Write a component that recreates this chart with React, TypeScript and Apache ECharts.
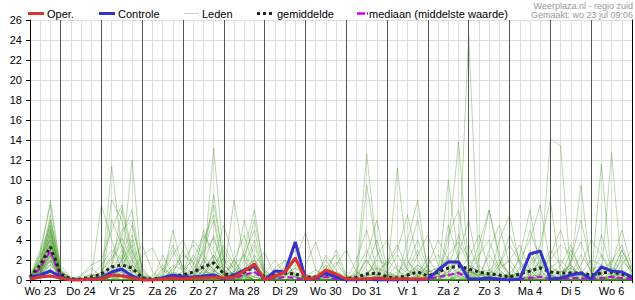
import React, { useEffect, useRef } from "react";
import * as echarts from "echarts";

// Day labels (shown at noon of each day); time axis in hours from Wo 23 00:00
const dayLabels = ["Wo 23", "Do 24", "Vr 25", "Za 26", "Zo 27", "Ma 28", "Di 29", "Wo 30", "Do 31", "Vr 1", "Za 2", "Zo 3", "Ma 4", "Di 5", "Wo 6"];
const firstHour = 6;
const stepHours = 6;

// 6-hourly precipitation (mm), starting at Wo 23 06:00
const oper = [0.1,0.3,0.4,0.2, 0,0,0.1,0.1, 0.5,0.4,0.2,0, 0,0.1,0.2,0.1, 0.2,0.2,0.3,0.2, 0.3,0.9,1.6,0, 0.4,0.8,2.2,0.1, 0.2,1.0,0.6,0.1, 0.1,0.1,0.2,0.1, 0.1,0.1,0.1,0.1];
const controle = [0.2,0.5,0.9,0.3, 0,0,0.1,0.2, 0.8,1.1,0.4,0, 0,0.2,0.5,0.3, 0.3,0.4,0.5,0.1, 0.5,1.0,1.4,0, 0.9,0.8,3.8,0.1, 0.2,0.7,0.3,0, 0,0.1,0,0, 0,0.1,0,0.1, 1.0,1.8,1.8,0.1, 0.1,0.2,0.1,0, 0.1,2.6,2.9,0.1, 0.2,0.5,0.7,0.1, 1.3,0.9,0.8,0.3];
const gemiddelde = [0.3,1.5,3.3,0.6, 0.1,0.1,0.3,0.6, 1.3,1.5,1.2,0.2, 0.1,0.2,0.4,0.5, 0.8,1.3,1.7,0.6, 0.5,0.8,1.3,0.2, 0.5,0.7,0.6,0.3, 0.3,0.6,0.4,0.1, 0.3,0.6,0.7,0.3, 0.2,0.5,0.8,0.4, 0.8,1.2,1.4,1.1, 0.8,0.6,0.5,0.3, 0.6,0.9,1.2,0.8, 0.7,0.7,0.7,0.5, 0.7,0.8,0.6,0.3];
const mediaan = [0.1,1.2,2.9,0.2, 0,0,0,0.1, 0.4,0.5,0.3,0, 0,0.1,0.2,0.1, 0.2,0.4,0.5,0.1, 0.2,0.5,0.8,0, 0.2,0.3,0.2,0, 0.1,0.3,0.1,0, 0,0.1,0.1,0, 0,0.1,0.1,0.1, 0.3,0.5,0.7,0.2, 0.1,0.1,0.1,0, 0.1,0.2,0.3,0.1, 0.1,0.2,0.2,0.1, 0.2,0.3,0.2,0.1];

// Ensemble members (leden)
const leden = [
  [0.2,2.5,8,1.2, 0,0,0.3,1.5, 3,2,0.8,0, 0,0.4,1.5,1, 2,4.5,3,0.8, 1.5,2.5,1,0, 0.4,1,0.3,0, 0,0.8,0.3,0, 0,0.6,1.5,0.4, 0.8,1.8,0.9,0, 0.4,2.5,3.8,1.5, 0.8,0.4,0,0, 0,0.8,1.8,0.4, 0.3,0.9,0.4,0, 0,0.9,0.4,0],
  [0.5,3,7.5,0.8, 0,0,0,0.4, 1.2,7,2.5,0, 0,0,0.6,3, 1,0.5,2,0.4, 0,1,3.5,0.2, 0,0.3,1.5,0.5, 0.2,0,0,0, 1,3,0.8,0, 0,0.3,2.5,4.5, 1.5,0.4,0,0, 0,0,1.2,2, 3.5,1,0,0, 0,0,0.6,2, 1.5,0.3,0,0],
  [0,1.5,6.5,0.6, 0,0,0.6,0, 0.5,1,4,0.3, 0,1.2,0.4,0, 0,2,8.5,1.5, 0.5,0,0.8,0, 1.2,2,0.4,0, 0,1.2,2.5,0.3, 0,0,0,0.4, 1.5,0.6,0,0, 0,0,1,2.2, 4.5,1,0.3,0, 0,0,0.8,3, 1.5,0.4,0,0.2, 0.6,1.8,3.5,0.8],
  [0.1,0.8,6,1.5, 0.2,0,0,0, 11.4,3,0.5,0, 0,0,0,0.3, 0.8,1.2,0.3,0, 2,4.5,1,0, 0,0,0.8,0.2, 0,0,0,0, 0.4,2,0.4,0, 0,0,0.5,1, 0.5,10,2,0.3, 1.5,0.4,0,0, 0,0.4,1.5,0.6, 0,0.3,0,0, 0,0,0.8,0.4],
  [0.3,2,5.5,0.4, 0,0,0,0, 0.4,1.5,12,0.5, 0,0,0.3,0, 0,0.4,1.5,3, 1,0.5,0,0, 0.5,0,0,0, 0.3,1.5,0.6,0, 0,0,1.2,0.8, 0.4,0,0,0.6, 0.3,0.8,2,24.5, 0.8,1,0.4,0, 0,0,0.3,1.2, 2,0.8,0,0, 0,0,0.5,1.5],
  [0,1.2,5,0.2, 0,0,0,0.8, 2.5,5,6,1, 0,0,0,0, 0,1,13.2,2, 0,0.8,0.3,0, 0,0,0,0.4, 1,0.4,0,0, 0,0.3,0,0, 0,0.4,1.5,0.6, 0,0,0.6,1, 0.4,2.5,1,0.2, 0,0,0,0, 0.4,1.2,0.5,0, 11.6,0.3,0,0],
  [0.2,1,4.5,0.3, 0,0,0.3,7.5, 4,0.8,0.2,0, 0,0.2,1,2, 3.5,2,1,0, 0,0.4,2.5,1, 0,0,0,0, 0,0,0.3,0.2, 0.6,12.6,3,0.5, 0,0,0.3,0.8, 1.2,1.5,0.6,0, 0,0,0.3,0.6, 2,4,7.5,1.5, 0.5,0,0,0, 0,0.4,1,0.3],
  [0.1,0.6,4.5,0.9, 0,0,0,0, 0.3,2,3.5,0, 0,0,0,0, 0.4,0.8,0.6,0, 0.8,6,2,0, 0,0.6,2,4.8, 1,0,0,0, 0,0,0.4,0.2, 11.2,2,0.4,0, 0,0.3,0.8,1.2, 0.3,0,0,0.4, 0.6,1.2,0.4,0, 0,0.5,2.5,1, 0.3,0,0,0],
  [0.4,2.5,4,0.2, 0,0,0.5,0.3, 1,0.5,0,0, 0,0.6,2.5,4, 1.5,0.3,0,0, 0.3,1.5,4,0.5, 0.3,0,0,0, 0,0.5,1.8,0.3, 0,0,0,0, 0,0.5,0.8,0.3, 0.5,2,1.5,0.4, 0,0,0.5,0.3, 0.4,0,0,0.4, 0.8,1.5,9.5,0.5, 0,0.3,0.6,0.2],
  [0,0.5,4,0.5, 0,0,0,0, 6,3.5,1,0, 0,0,0,0, 0,5,2,0.5, 0,0,0.4,0.6, 2,0.5,0,0, 0,0,0,0, 2,5,1,0.3, 0.3,1,3,0.5, 0,0,0.4,0.8, 2,7,2.5,0.3, 0,0,0.6,0.3, 0,0,0.3,0.5, 2.5,1,0,0],
  [0.2,1.8,3.5,0.3, 0,0,0,0, 0.5,1,0.3,0, 0,0,0,0.5, 2.5,1,0.4,0, 0,0.3,0.8,0.4, 0,0,0.3,1.5, 3.8,0.5,0,0, 0,0,0.6,2, 1,0.3,0,0, 0,0.6,2.5,3.5, 1,0.3,0,0, 0,0.4,0.5,14.1, 13.4,0.5,0,0, 0.4,0,0.3,0.8],
  [0.1,1.5,3.5,0.8, 0.3,0,0,0.2, 2,4.5,7,0.8, 0,0,0.3,0.6, 4,2.5,1,0.3, 0,0,0,0, 0.8,1.2,0.5,0, 0,0,0,0, 0,0.4,0.8,0.2, 0,0,0.3,1.5, 2.5,1,0.3,0, 0,0.6,1.8,0.6, 0.3,1.8,3,0.6, 0,0,0,0.3, 0.5,12.7,0.8,0.2],
  [0.3,2,3,0.2, 0,0,0,0.6, 1.5,0.8,0.3,0, 0,0.5,0,0, 0,0,0.8,3.5, 1.5,0.6,0,0, 0,0,0,0, 0,0,0.8,0.4, 0,1.5,4,0.6, 0,0,0.4,0.2, 0.8,0.4,1.2,0.6, 0,0,0,0, 0,0.3,2,1, 0.4,0.3,0.8,0.4, 0,0,0,0.3],
  [0,0.8,3,0.4, 0,0.4,1.2,0.3, 0,0,0,0, 0,0,0,0, 0.3,1.5,4.5,0.8, 0,0,0,0.3, 0.5,0,0,0, 0,0.3,0,0, 0,0,0,0, 0.5,2.5,6,1.2, 0,0,0,0.5, 0.5,0.3,0,0, 1,2.5,0.5,0, 0,0.2,0.6,0.3, 0.8,2,1,0],
  [0.1,0.6,2.5,0.1, 0,0,0,0, 0.8,2.5,0.5,0, 0,0,0,0, 0,0,0,0.6, 8,2,0.5,0, 0,0.5,1.2,0.3, 0,0,0,0, 0.3,0,0,0, 0,0,0,0.4, 0.6,3.5,13.8,1, 0,0,0,0.3, 0,0,0,0, 0,0,0.5,1, 1.5,0.5,0,0],
  [0.2,1,2.5,0.5, 0,0,0,0, 0.3,0,0,0, 0,0.8,3,0.8, 0,0.4,1,0.3, 0.6,0.3,0,0, 0,0,0.6,0.3, 0,0.6,0,0, 0.8,0.3,0,0, 0,0,0.6,2.2, 0.6,0,0,0, 0,0,4,6.5, 1.5,0.3,0,0, 0,0,0,0, 0,0.6,2,0.8],
  [0,0.4,2,0, 0,0,0,0, 0,0.5,1.5,0.3, 0,0,0,0, 1,3,6,0.5, 0,0.8,0,0, 0,0,0,0, 0.5,0,0,0, 0,0,0,0.6, 0.3,0,0,0, 0,0,0.3,0.8, 0.6,0,0,0, 0,0.5,3.5,8, 0.5,0,0,0, 0,0,0,0],
  [0.2,0.9,2,0.3, 0,0,0,0, 0.6,0.3,0,0, 0,0,0.4,1.5, 0.5,0,0,0, 0,0,1.5,0.5, 0.6,2,0.5,0, 0,0,0,0, 0,0.6,0.3,0, 0,0.3,1,0.3, 0,0.6,2,0.5, 0,0,0,0, 0,0,0,0.3, 0.6,1.5,0.5,0, 0,0,0.3,0.5],
  [0,0.3,1.5,0.6, 0,0,0,0, 0,0,0,0, 0,0,0,0, 0,0.6,2.5,0.6, 0,0,0,0, 0,0,0,0, 0,0,0,0, 0,0,0,0.3, 0.5,1.5,4,1, 0,0,0,0.3, 0.3,0,0,0, 0,0,0.5,2.5, 5,1.5,0,0, 0,0,0,0],
  [0.1,0.5,1.5,0.2, 0,0,0,0, 0,0,0,0.2, 0.4,1.5,0.3,0, 0,0,0.5,0.8, 0.4,0,0,0, 0,0,0,0, 0,0,0,0, 0,0,0,0, 0,0,0,0, 0,0,0,0, 0,3,5.5,1.5, 0,0,0,0, 0,0,0,0, 0,0.5,3,0.8],
  [0.3,1.5,1,0, 0,0,0,0, 0,1.5,3,0, 0,0,0,0, 0.4,2,1,0, 0,0,0,0, 0,0,0,0.3, 0.4,2,0.5,0, 0,0,0,0, 0,4,8,0.5, 0,0,0,0, 0,0,1,2, 0.6,0,0,0, 0,3,1,0, 0,0,0,0],
  [0,0.3,1,0.2, 0,0,0,0.3, 0.5,0,0,0, 0,0,0,0, 0,0,0,0, 0,3,7,0.5, 0,0,0,0, 0,0,0,0, 0,9.5,3,0, 0,0,0,0, 0,0,0,0.8, 3.5,7,2,0, 0,0,0,0, 0,0,0,0, 0,0,0,0.5],
  [0.2,0.8,0.5,0, 0,0,0,0, 0,0,0.6,0, 0,2.5,0.5,0, 0,0,0,0, 0.3,0,0,0, 0,1.5,3,0.5, 0,0,0,0, 0,0,0,0, 0,0,0,0, 0,0,0,1.5, 0.8,0,0,0, 0,3,1,0, 0,0,0,0, 0,0.5,0.5,0],
  [0,0.2,0.8,0.2, 0,0,0,0, 8,6,2,0, 0,0,0,0, 0,0,0,0, 0,0,0,0, 0,0,0,0, 0,0,0,0, 0,0,0,0, 0,0,0,0, 0,5.5,2,0, 0,0,0,0, 0,0,0,0, 0,0,0,0, 0,0,0,0],
  [0,0.2,0.5,0, 0,0,0,0, 0,0,0,0, 0,0,5,1, 0,0,0,0, 0,0,0,0, 0,0,0,0, 0,0,0,0, 0,0,0,0, 0,0,0,0, 0,0,0,0, 0,0,0,0, 2.5,7,1,0, 0,0,0,0, 0,0,0,0],
  [0.1,1,3,0.4, 0,0.5,1.5,2, 5,7.5,3,0.4, 0,0,0,0, 0,0,0,0.5, 2,0.5,0,0, 0,0,0,0, 0,0,0,0, 0,0,0,0, 0,0,0,0, 0,0,0,0, 0,0,0,0, 0,0,0,0, 0,0,0,0, 0,0,2.5,0.5],
  [0.3,2.2,6,0.8, 0,0,0,0, 0,0,0,0, 0,0,0,0, 0,0,0,0, 0,0,0,0, 0,0,0,0, 0,0,0,0, 0,2.5,6,1, 0,0,0,0, 0,0,0,0, 0,0,0,0, 0,0,0,0, 0,0,0,0, 0,0,0,0],
  [0.2,1.2,5,0.5, 0,0,0,0, 0,0.8,1.5,0.3, 0,0,0,0, 1.5,4,6.5,1, 0,0,0,0, 0,0,0,0, 0,0,0,0, 0,0,0,0, 0,0,0,0, 0,0,0,0, 0,0,0,0, 0,0,0,0, 0,0,0,0, 0,0,0,0],
  [0,0.5,2,0.1, 0,0,0,0, 0,0,0,0, 0,0,0,0, 0,0,0,0, 0,0,0,0, 0,0,0,0, 0,0,0,0, 0,0.5,2,1.5, 3,6.5,2,0, 0,0,0,0, 0,0,0,0, 0,0,0,0, 0,0,0,0, 4.5,1,0,0],
  [0.1,0.6,2.2,0.4, 0,0,0,0, 0,0,0,0, 0,0,0,0, 0,0,0,0, 0,0,0,0, 0,0,0,0, 0,0,0,0, 0,0,0,0, 0,0,0,0, 0,0,0,0, 0,1,2,0.6, 0,0,0,0, 0,2,6,1.5, 0,0,0,0],
  [0.2,1.6,3.8,0.3, 0,0,0,0, 0.8,3,1,0, 0,0,0,0, 0,1,2.5,0.6, 0.8,2.5,5,0.5, 0,0,0,0, 0,0,0,0, 0,0,0,0, 0,0,0,0, 0,1,2.5,6, 0.8,0,0,0, 0,0,0,0, 0,0,0,0, 0,0,0,0],
  [0,0.7,2.8,0.2, 0,0,0,0, 0,0,0,0, 0,0,0,0, 0,0,0,0, 0,0,0,0, 0,0,0,0, 0,0.5,3,0.5, 0,0,0,0, 0,0,0,0, 0,0,0,0, 0,0,0,0, 0,0,0,0, 0,0,0,0, 0,0,0,0],
  [0.2,1.4,4.2,0.7, 0,0,0.2,0.8, 2.2,3.5,1.5,0.2, 0,0.3,0.8,0.5, 0.6,2.8,4.2,1, 0.4,1.2,2,0.3, 0.2,0.6,0.3,0, 0,0.3,0.6,0.2, 0.3,0.8,1.2,0.4, 0.2,0.6,1.5,0.8, 1.2,2.2,1.6,0.8, 0.5,0.8,0.4,0.2, 0.3,1.5,2.5,1.2, 0.8,1.2,0.6,0.3, 0.6,1.2,0.8,0.2],
  [0.1,2.8,5.5,1, 0,0,0,0.5, 0.6,1.8,4.5,0.6, 0,0,1.2,2.5, 1.8,0.6,0.2,0, 0,0.5,1.5,2.8, 0.3,0,0,0, 0,0,1.5,3, 0.8,0,0,0.8, 2.5,1,0,0, 0,1.2,4.5,2, 0.6,0.2,1.5,3.5, 1.8,0.4,0,0, 0,1.8,3.8,0.6, 0.2,0,0,0.6],
  [0,0.9,3.2,0.5, 0,0.2,0.6,0.3, 0,0.4,2,3.5, 0.8,0,0,0, 0,0.5,2,5.5, 2,0.4,0,0, 0,0.8,0.3,0, 0,0,0,0, 0,0,2.5,4, 1,0,0,0, 0,0,0.8,1.6, 2.5,4,1,0, 0,0,0,0.6, 1.5,3.5,0.8,0, 0,0.8,3,1],
  [0.3,1.8,4.8,0.4, 0,0,0,0, 0,2.2,5.5,1.2, 0,0,0.5,0.8, 0.2,1.5,0.8,0, 0.5,2,6,1, 0,0,0,0, 0,0,0,0, 0,0,0.5,1.8, 3.5,1,0.3,0, 0,0.5,0.8,0.3, 0,0,0,0, 1.2,5,2,0.5, 0,0,0,0, 0.3,1.5,5,1.2],
  [0.2,1.1,3.6,0.9, 0.2,0,0,0, 0.4,0.8,1,0.3, 0,0,0,0, 0,3.5,7.5,2, 0.8,0,0,0, 0,0,0,0, 0,0,0,0, 0.6,2,0.5,0, 0,0,0.3,1.5, 4,2,0.6,0, 0,0,0,0, 0,0,1.2,2, 3.5,2.5,0.6,0, 0,0,0,0],
  [0.1,0.6,2.6,0.3, 0,0,0,0, 0,0,0.8,2.5, 3.2,1,0.2,0, 0,0,0.8,1.5, 0.5,0.2,0,0, 0,0.4,1.2,0.6, 0,0,0,0, 0,0,0,0, 0,0,0,0, 0,0,0.5,1, 0.3,0,1.5,4.5, 2,0.4,0,0, 0.2,0.6,1.5,4, 2.5,0.5,0,0],
  [0.4,2,5.2,0.6, 0,0,0,0, 1.5,4.2,2,0.3, 0,0,0,0, 0,0,1,2.2, 1.2,0.6,0.3,0, 0,0,0,0, 0,2.5,1,0, 0,0,0,0, 0,0.6,1.2,0.4, 0,0.8,1.8,0.8, 0,0,0,0, 0,0,0,0, 0,0,0,0, 0,0,1.5,3],
  [0,0.4,1.8,0.2, 0,0,0,0, 0,0,0,0, 0,1,3.5,1.2, 0.3,0,0,0, 0,0,0,0, 0,0,0,0, 0,0,0,0, 0,0,0,0, 0,0,0,0, 0,4.5,7,1.5, 0,0,0,0, 0,0,0,0, 0,0,0,0, 0,0,0,0],
  [0.1,0.8,2.4,0.2, 0,0,0,0, 0.5,0.5,0,0, 0,0,0,0, 0,0,0,0, 0,0.5,2,0.8, 0,0,0,0, 0,0,0,0, 0,0,0,0, 0,0,0,0, 0,0,0,0, 0,0.4,0.8,0.3, 0,0,0,0, 0,0,0,0, 0,0,0,0],
];

const FONT = "'Liberation Sans', Arial, sans-serif";

function toPoints(vals: number[]) {
  return vals.map((v, i) => [firstHour + stepHours * i, v]);
}

function buildOption() {
  const dayStarts = dayLabels.slice(1).map((_, i) => (i + 1) * 24);
  const lineBase = { type: "line", symbol: "none", showSymbol: false, silent: true, animation: false };
  const memberSeries = leden.map((m) => ({
    ...lineBase,
    data: toPoints(m),
    lineStyle: { color: "rgba(60,150,30,0.36)", width: 1 },
    z: 2,
  }));
  return {
    animation: false,
    backgroundColor: "#fff",
    grid: { left: 30, right: 1, top: 20, bottom: 20, containLabel: false },
    xAxis: [
      {
        type: "value", min: 6, max: 360, interval: 6, position: "bottom",
        axisLine: { show: true, lineStyle: { color: "#000", width: 1 } },
        axisTick: { show: true, length: 3, lineStyle: { color: "#000" } },
        axisLabel: {
          color: "#000", fontSize: 11, fontFamily: FONT, margin: 5,
          formatter: (v: number) => (v % 24 === 12 ? dayLabels[(v - 12) / 24] : ""),
        },
        splitLine: { show: true, lineStyle: { color: "#dddddd", width: 1 } },
      },
      {
        type: "value", min: 6, max: 360, interval: 6, position: "top",
        axisLine: { show: true, lineStyle: { color: "#000", width: 1 } },
        axisTick: { show: true, inside: true, length: 3, lineStyle: { color: "#000" } },
        axisLabel: { show: false },
        splitLine: { show: false },
      },
    ],
    yAxis: [
      {
        type: "value", min: 0, max: 26, interval: 2,
        axisLine: { show: true, lineStyle: { color: "#000", width: 1 } },
        axisTick: { show: true, length: 4, lineStyle: { color: "#000" } },
        axisLabel: { color: "#000", fontSize: 11, fontFamily: FONT, margin: 8 },
        splitLine: { show: true, lineStyle: { color: "#dddddd", width: 1 } },
      },
      {
        type: "value", min: 0, max: 26, interval: 2, position: "right",
        axisLine: { show: true, lineStyle: { color: "#000", width: 1 } },
        axisTick: { show: false }, axisLabel: { show: false }, splitLine: { show: false },
      },
    ],
    series: [
      {
        type: "line", data: [], silent: true, z: 1,
        markLine: {
          silent: true, symbol: ["none", "none"], animation: false,
          label: { show: false },
          lineStyle: { color: "#555555", width: 1, type: "solid" },
          data: dayStarts.map((h) => ({ xAxis: h })),
        },
      },
      ...memberSeries,
      { ...lineBase, data: toPoints(mediaan), lineStyle: { color: "#cc00ee", width: 2, type: [6, 3] }, z: 4 },
      { ...lineBase, data: toPoints(gemiddelde), lineStyle: { color: "#222222", width: 3, type: [3, 3] }, z: 5 },
      { ...lineBase, data: toPoints(controle), lineStyle: { color: "#3333cc", width: 3 }, z: 6 },
      { ...lineBase, data: toPoints(oper), lineStyle: { color: "#d93333", width: 3 }, z: 7 },
    ],
    graphic: [
      { type: "line", shape: { x1: 28, y1: 13.5, x2: 44, y2: 13.5 }, style: { stroke: "#d93333", lineWidth: 3 } },
      { type: "text", x: 47, y: 13.5, style: { text: "Oper.", font: `11px ${FONT}`, fill: "#000", verticalAlign: "middle", textVerticalAlign: "middle" } },
      { type: "line", shape: { x1: 99, y1: 13.5, x2: 115, y2: 13.5 }, style: { stroke: "#3333cc", lineWidth: 3 } },
      { type: "text", x: 118, y: 13.5, style: { text: "Controle", font: `11px ${FONT}`, fill: "#000", verticalAlign: "middle", textVerticalAlign: "middle" } },
      { type: "line", shape: { x1: 184, y1: 13.5, x2: 199, y2: 13.5 }, style: { stroke: "#b8dcaa", lineWidth: 1 } },
      { type: "text", x: 202, y: 13.5, style: { text: "Leden", font: `11px ${FONT}`, fill: "#000", verticalAlign: "middle", textVerticalAlign: "middle" } },
      { type: "line", shape: { x1: 257, y1: 13.5, x2: 273, y2: 13.5 }, style: { stroke: "#222222", lineWidth: 3, lineDash: [3, 3] } },
      { type: "text", x: 277, y: 13.5, style: { text: "gemiddelde", font: `11px ${FONT}`, fill: "#000", verticalAlign: "middle", textVerticalAlign: "middle" } },
      { type: "line", shape: { x1: 357, y1: 13.5, x2: 368, y2: 13.5 }, style: { stroke: "#cc00ee", lineWidth: 2.5, lineDash: [8, 2] } },
      { type: "text", x: 369, y: 13.5, style: { text: "mediaan (middelste waarde)", font: `11px ${FONT}`, fill: "#000", verticalAlign: "middle", textVerticalAlign: "middle" } },
      { type: "text", x: 633, y: 5.5, style: { text: "Weerplaza.nl - regio zuid", font: `9px ${FONT}`, fill: "#999999", align: "right", textAlign: "right", verticalAlign: "middle", textVerticalAlign: "middle" } },
      { type: "text", x: 633, y: 15, style: { text: "Gemaakt: wo 23 jul 09:06", font: `9px ${FONT}`, fill: "#999999", align: "right", textAlign: "right", verticalAlign: "middle", textVerticalAlign: "middle" } },
    ],
  };
}

export default function App() {
  const ref = useRef<HTMLDivElement>(null);
  useEffect(() => {
    if (!ref.current) return;
    const chart = echarts.init(ref.current, null, { renderer: "svg" });
    chart.setOption(buildOption() as any);
    return () => chart.dispose();
  }, []);
  return (
    <div
      ref={ref}
      style={{ position: "fixed", left: 0, top: 0, width: 635, height: 300, background: "#fff" }}
    />
  );
}
